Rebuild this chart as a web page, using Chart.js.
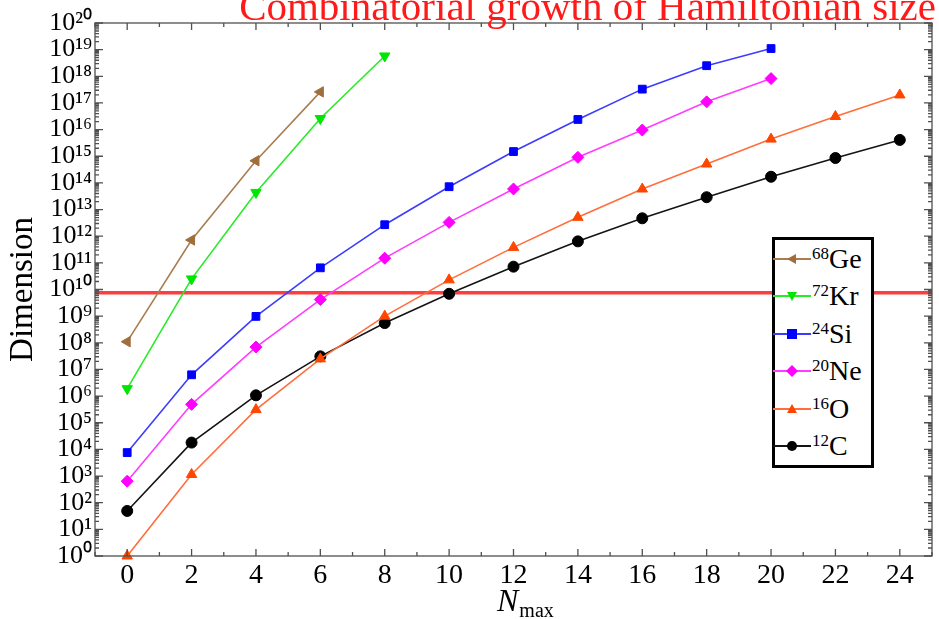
<!DOCTYPE html>
<html>
<head>
<meta charset="utf-8">
<script src="https://cdn.jsdelivr.net/npm/chart.js@4.4.1/dist/chart.umd.min.js"></script>
<style>
  html, body { margin: 0; padding: 0; background: #fff; overflow: hidden; }
  #wrap { position: relative; width: 939px; height: 619px; overflow: hidden; }
  #chart { position: absolute; left: 0; top: 0; }
  #title { position: absolute; right: 3px; top: -14px; font-family: "Liberation Serif", serif; font-size: 41px; line-height: 1; color: #ff1a1a; white-space: nowrap; }
  #xtitle { position: absolute; left: 497px; top: 584px; font-family: "Liberation Serif", serif; font-size: 32px; line-height: 1; color: #000; white-space: nowrap; }
  #xtitle i { font-style: italic; }
  #xtitle span { font-size: 20px; position: relative; top: 6px; margin-left: 1px; }
  #legend { position: absolute; left: 772px; top: 237px; width: 96px; height: 225px; border: 3px solid #000; background: #fff; font-family: "Liberation Serif", serif; }
  .row { height: 37.5px; display: flex; align-items: center; }
  .row svg { flex: none; margin-left: -2px; }
  .lab { font-size: 28px; line-height: 1; color: #000; margin-left: 1px; white-space: nowrap; }
  .lab sup { font-size: 17px; vertical-align: 9px; line-height: 0; }
</style>
</head>
<body>
<div id="wrap">
  <canvas id="chart" width="939" height="619"></canvas>
  <div id="title">Combinatorial growth of Hamiltonian size</div>
  <div id="xtitle"><i>N</i><span>max</span></div>
  <div id="legend"></div>
</div>
<script>
// ---- data ----
const nmax = [0, 2, 4, 6, 8, 10, 12, 14, 16, 18, 20, 22, 24];
const ge68 = [1.1e8, 7.2e11, 6.8e14, 2.6e17];
const kr72 = [1.9e6, 2.5e10, 4.4e13, 2.6e16, 5.8e18];
const si24 = [7.6e3, 6.3e6, 9.8e8, 6.5e10, 2.7e12, 7.2e13, 1.5e15, 2.4e16, 3.3e17, 2.5e18, 1.1e19];
const ne20 = [640, 4.9e5, 6.9e7, 4.2e9, 1.5e11, 3.3e12, 5.9e13, 9.1e14, 9.6e15, 1.1e17, 8.2e17];
const o16  = [1, 1150, 3.1e5, 2.5e7, 1.0e9, 2.3e10, 3.8e11, 5.1e12, 5.9e13, 5.1e14, 4.4e15, 3.1e16, 2.0e17];
const c12  = [49, 1.8e4, 1.07e6, 3.1e7, 5.5e8, 6.9e9, 7.2e10, 6.4e11, 4.7e12, 2.9e13, 1.7e14, 8.6e14, 4.1e15];
const thresholdValue = 7.5e9;
const thresholdRange = [-1, 25];
const xTicks = [0, 2, 4, 6, 8, 10, 12, 14, 16, 18, 20, 22, 24];
const yExponents = [0, 1, 2, 3, 4, 5, 6, 7, 8, 9, 10, 11, 12, 13, 14, 15, 16, 17, 18, 19, 20];
const seriesNames = ['Ge', 'Kr', 'Si', 'Ne', 'O', 'C'];
const massNumbers = ['68', '72', '24', '20', '16', '12'];

const SUP = {'0':'⁰','1':'¹','2':'²','3':'³','4':'⁴','5':'⁵','6':'⁶','7':'⁷','8':'⁸','9':'⁹'};
const sup = n => String(n).split('').map(c => SUP[c]).join('');
const pts = arr => arr.map((v, i) => ({ x: nmax[i], y: v }));

const styles = [
  { data: ge68, line: 'rgb(170,125,80)', fill: 'rgb(160,110,60)', shape: 'triangle', rot: 270, r: 6 },
  { data: kr72, line: 'rgb(40,235,40)', fill: 'rgb(0,230,0)', shape: 'triangle', rot: 180, r: 6 },
  { data: si24, line: 'rgb(60,60,255)', fill: 'rgb(0,0,255)', shape: 'rect', rot: 0, r: 5.5 },
  { data: ne20, line: 'rgb(255,60,255)', fill: 'rgb(255,0,255)', shape: 'rectRot', rot: 0, r: 6 },
  { data: o16,  line: 'rgb(255,110,60)', fill: 'rgb(255,70,0)', shape: 'triangle', rot: 0, r: 6 },
  { data: c12,  line: 'rgb(20,20,20)', fill: 'rgb(0,0,0)', shape: 'circle', rot: 0, r: 5.5 }
];

const datasets = styles.map((s, i) => ({
  label: massNumbers[i] + seriesNames[i],
  data: pts(s.data),
  borderColor: s.line,
  backgroundColor: s.fill,
  pointBackgroundColor: s.fill,
  pointBorderColor: s.fill,
  pointStyle: s.shape,
  pointRotation: s.rot,
  pointRadius: s.r,
  pointBorderWidth: 1,
  borderWidth: 1.6,
  tension: 0,
  order: 0,
  clip: 6
}));
datasets.push({
  label: 'limit',
  data: thresholdRange.map(x => ({ x: x, y: thresholdValue })),
  borderColor: 'rgba(255,40,40,0.9)',
  borderWidth: 3.5,
  pointRadius: 0,
  order: 1
});

const framePlugin = {
  id: 'frame',
  afterDatasetsDraw(chart) {
    const { ctx, chartArea: a, scales: { x, y } } = chart;
    ctx.save();
    ctx.strokeStyle = '#505050';
    ctx.lineWidth = 1.3;
    ctx.strokeRect(a.left, a.top, a.right - a.left, a.bottom - a.top);
    ctx.beginPath();
    for (let v = Math.ceil(x.min); v <= x.max; v++) {
      const px = x.getPixelForValue(v);
      const len = v % 2 === 0 ? 7 : 4;
      ctx.moveTo(px, a.bottom); ctx.lineTo(px, a.bottom - len);
      ctx.moveTo(px, a.top); ctx.lineTo(px, a.top + len);
    }
    const eMax = yExponents[yExponents.length - 1];
    for (const e of yExponents) {
      for (let m = 1; m <= 9; m++) {
        if (e === eMax && m > 1) break;
        const py = y.getPixelForValue(m * Math.pow(10, e));
        const len = m === 1 ? 8 : 4;
        ctx.moveTo(a.left, py); ctx.lineTo(a.left + len, py);
        ctx.moveTo(a.right, py); ctx.lineTo(a.right - len, py);
      }
    }
    ctx.stroke();
    ctx.restore();
  }
};

new Chart(document.getElementById('chart'), {
  type: 'line',
  data: { datasets },
  plugins: [framePlugin],
  options: {
    responsive: false,
    animation: false,
    layout: { padding: { left: 0, right: 4, top: 23, bottom: 0 } },
    plugins: { legend: { display: false }, title: { display: false }, tooltip: { enabled: false } },
    scales: {
      x: {
        type: 'linear', min: -1, max: 25,
        afterBuildTicks: s => { s.ticks = xTicks.map(v => ({ value: v })); },
        afterFit: s => { s.height = 63; },
        grid: { display: false, drawTicks: false },
        border: { display: false },
        ticks: { font: { family: 'Liberation Serif', size: 28 }, color: '#000', padding: 3, maxRotation: 0, autoSkip: false, callback: v => String(v) }
      },
      y: {
        type: 'logarithmic', min: 1, max: 1e20,
        afterBuildTicks: s => { s.ticks = yExponents.map(e => ({ value: Math.pow(10, e) })); },
        afterFit: s => { s.width = 95; },
        grid: { display: false, drawTicks: false },
        border: { display: false },
        ticks: { font: { family: 'Liberation Serif', size: 26 }, color: '#000', padding: 3, autoSkip: false, callback: (v, i) => '10' + sup(yExponents[i]) },
        title: { display: true, text: 'Dimension', font: { family: 'Liberation Serif', size: 33 }, color: '#000', padding: { top: 4, bottom: 0 } }
      }
    }
  }
});

// ---- legend (HTML, built from the series) ----
const leg = document.getElementById('legend');
styles.forEach((s, i) => {
  const row = document.createElement('div');
  row.className = 'row';
  const cx = 19, cy = 9, r = 5;
  let mk = '';
  if (s.shape === 'circle') mk = `<circle cx="${cx}" cy="${cy}" r="${r}" fill="${s.fill}"/>`;
  else if (s.shape === 'rect') mk = `<rect x="${cx - r}" y="${cy - r}" width="${2 * r}" height="${2 * r}" fill="${s.fill}"/>`;
  else if (s.shape === 'rectRot') mk = `<polygon points="${cx},${cy - r - 1} ${cx + r + 1},${cy} ${cx},${cy + r + 1} ${cx - r - 1},${cy}" fill="${s.fill}"/>`;
  else mk = `<polygon points="${cx},${cy - r} ${cx + r},${cy + r * 0.8} ${cx - r},${cy + r * 0.8}" fill="${s.fill}" transform="rotate(${s.rot} ${cx} ${cy})"/>`;
  row.innerHTML = `<svg width="38" height="18"><line x1="0" y1="${cy}" x2="38" y2="${cy}" stroke="${s.line}" stroke-width="2"/>${mk}</svg><span class="lab"><sup>${massNumbers[i]}</sup>${seriesNames[i]}</span>`;
  leg.appendChild(row);
});
</script>
</body>
</html>
